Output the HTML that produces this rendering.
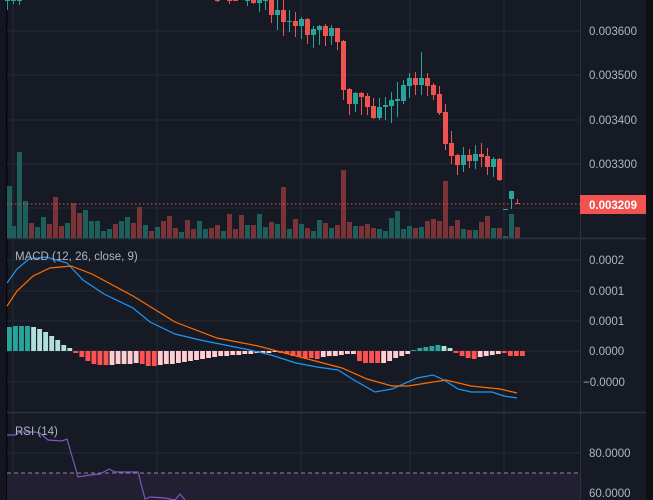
<!DOCTYPE html>
<html><head><meta charset="utf-8"><style>
html,body{margin:0;padding:0;background:#161a25;}
svg{display:block;}
text{font-family:"Liberation Sans",sans-serif;font-size:11.5px;fill:#b2b5be;}
</style></head><body>
<svg id="s" width="653" height="500" xmlns="http://www.w3.org/2000/svg">
<rect width="653" height="500" fill="#161a25"/>
<rect x="0" y="0" width="6" height="500" fill="#131620"/>
<rect x="6" y="0" width="1.5" height="500" fill="#05060a"/>
<rect x="646" y="0" width="7" height="500" fill="#0d0f14"/>
<g stroke="#262a35" stroke-width="1">
<line x1="13" y1="0" x2="13" y2="500"/><line x1="157" y1="0" x2="157" y2="500"/>
<line x1="301" y1="0" x2="301" y2="500"/><line x1="410" y1="0" x2="410" y2="500"/>
<line x1="504" y1="0" x2="504" y2="500"/>
<line x1="7" y1="31" x2="580" y2="31"/><line x1="7" y1="75" x2="580" y2="75"/>
<line x1="7" y1="120" x2="580" y2="120"/><line x1="7" y1="164" x2="580" y2="164"/>
<line x1="7" y1="208" x2="580" y2="208"/>
<line x1="7" y1="260" x2="580" y2="260"/><line x1="7" y1="291" x2="580" y2="291"/>
<line x1="7" y1="321" x2="580" y2="321"/><line x1="7" y1="351" x2="580" y2="351"/>
<line x1="7" y1="382" x2="580" y2="382"/>
<line x1="7" y1="453" x2="580" y2="453"/><line x1="7" y1="493" x2="580" y2="493"/>
</g>
<rect x="7" y="473" width="573" height="27" fill="#221f33"/>
<line x1="7" y1="473" x2="580" y2="473" stroke="#8a8d96" stroke-dasharray="4,3"/>
<line x1="7" y1="238.5" x2="646" y2="238.5" stroke="#2e323d" stroke-width="1.5"/>
<line x1="7" y1="412.5" x2="646" y2="412.5" stroke="#2e323d" stroke-width="1.5"/>
<line x1="580.5" y1="0" x2="580.5" y2="500" stroke="#2e323d"/>
<g id="vol"></g><g id="cdl"></g><g id="hist"></g>
<line x1="7" y1="204" x2="580" y2="204" stroke="#ef5350" stroke-dasharray="1.5,2.5"/>
<polyline fill="none" stroke="#2196f3" stroke-width="1.2" points="7,283 17,269 29,259 46,257 67,263 83,280 104,294 133,308 150,322 175,334 200,340 225,345 250,350 271,355 296,363 317,367 338,370 354,380 375,392 392,389 417,378 433,375 444,380 458,389 471,392 492,392 504,396 517,398"/>
<polyline fill="none" stroke="#ff6d00" stroke-width="1.2" points="7,306 17,291 33,276 50,268 71,266 92,274 133,296 175,322 217,338 258,346 300,357 342,368 367,379 392,386 408,386 446,380 471,386 500,389 517,393"/>
<polyline fill="none" stroke="#7e57c2" stroke-width="1.2" points="7,435 15,435 20,432 35,432 40,433 48,440 62,441 67,439 78,477 90,475 100,474 109,469 115,472 130,472 138,472 145,499 150,497 165,498 175,500 180,494 185,500"/>
<text x="15" y="260" font-size="12">MACD (12, 26, close, 9)</text>
<text x="15" y="435" font-size="12">RSI (14)</text>
<text x="589" y="35">0.003600</text><text x="589" y="79">0.003500</text>
<text x="589" y="124">0.003400</text><text x="589" y="168">0.003300</text>
<rect x="580" y="195" width="66" height="19" fill="#f05350"/>
<text x="589" y="209" style="fill:#fff;font-weight:bold">0.003209</text>
<text x="589" y="264">0.0002</text><text x="589" y="295">0.0001</text>
<text x="589" y="325">0.0001</text><text x="589" y="355">0.0000</text>
<text x="583" y="386">−0.0000</text>
<text x="589" y="457">80.0000</text><text x="589" y="497">60.0000</text>
</svg>
<script>
var NS="http://www.w3.org/2000/svg";
function el(p,t,a){var e=document.createElementNS(NS,t);for(var k in a)e.setAttribute(k,a[k]);document.getElementById(p).appendChild(e);}
// volume: [x, top, color(g/r)]
var vol=[[7,186,'g'],[11,226,'g'],[17,152,'g'],[23,201,'g'],[29,223,'r'],[35,227,'g'],[41,217,'g'],[47,224,'r'],[53,197,'r'],[59,226,'r'],[65,223,'g'],[71,203,'r'],[77,213,'r'],[83,210,'g'],[89,221,'g'],[95,221,'g'],[101,231,'g'],[107,229,'g'],[113,224,'r'],[119,221,'g'],[125,217,'g'],[131,223,'r'],[137,207,'r'],[143,225,'g'],[149,231,'r'],[155,227,'g'],[161,221,'r'],[167,216,'r'],[173,228,'r'],[179,232,'g'],[185,220,'r'],[191,229,'r'],[197,221,'g'],[203,229,'g'],[209,228,'r'],[215,225,'r'],[221,231,'g'],[227,214,'r'],[233,229,'r'],[239,215,'r'],[245,225,'g'],[251,225,'r'],[257,214,'g'],[263,227,'g'],[269,222,'r'],[275,224,'g'],[281,187,'r'],[287,229,'g'],[293,219,'r'],[299,224,'g'],[305,228,'r'],[311,231,'g'],[317,220,'g'],[323,223,'r'],[329,228,'g'],[335,225,'r'],[341,170,'r'],[347,222,'r'],[353,226,'g'],[359,226,'r'],[365,224,'r'],[371,228,'r'],[377,229,'g'],[383,231,'g'],[389,218,'g'],[395,211,'g'],[401,229,'g'],[407,226,'g'],[413,228,'r'],[419,227,'g'],[425,221,'r'],[431,219,'r'],[437,221,'r'],[443,181,'r'],[449,226,'r'],[455,220,'r'],[461,229,'g'],[467,230,'r'],[473,230,'g'],[479,222,'r'],[485,216,'r'],[491,228,'g'],[497,228,'r'],[503,236,'g'],[509,214,'g'],[515,227,'r']];
vol.forEach(function(v){el('vol','rect',{x:v[0],y:v[1],width:5,height:238-v[1],fill:v[2]=='g'?'#1f5f5b':'#7a3437'});});
// candles: [cx, bodyTop, bodyBot, wickTop, wickBot, color]
var c=[[7.5,0,0,0,10,'g'],[13.5,0,0,0,4,'g'],[19.5,0,0,0,5,'g'],[217.5,0,1,0,2,'r'],[229.5,0,1,0,4,'r'],[235.5,0,1,0,1,'r'],[247.5,0,1,0,6,'g'],[253.5,0,3,0,4,'r'],[259.5,0,3,0,12,'g'],[265.5,0,1,0,10,'g'],[271.5,0,15,0,23,'r'],[277.5,10,15,0,30,'g'],[283.5,10,22,0,36,'r'],[289.5,21,22,10,32,'g'],[295.5,21,26,12,37,'r'],[301.5,19,26,17,39,'g'],[307.5,19,35,18,44,'r'],[313.5,29,35,26,48,'g'],[319.5,26,30,25,45,'g'],[325.5,26,36,24,46,'r'],[331.5,28,36,25,45,'g'],[337.5,28,42,28,50,'r'],[343.5,41,90,40,100,'r'],[349.5,89,104,88,115,'r'],[355.5,93,104,92,112,'g'],[361.5,93,97,92,115,'r'],[367.5,96,107,93,115,'r'],[373.5,106,118,98,119,'r'],[379.5,107,118,98,120,'g'],[385.5,105,107,97,120,'g'],[391.5,100,106,92,123,'g'],[397.5,99,101,82,117,'g'],[403.5,85,101,80,104,'g'],[409.5,78,86,73,98,'g'],[415.5,78,85,72,95,'r'],[421.5,78,85,52,95,'g'],[427.5,78,86,73,96,'r'],[433.5,85,95,83,100,'r'],[439.5,94,113,86,115,'r'],[445.5,112,144,104,150,'r'],[451.5,143,156,131,164,'r'],[457.5,155,165,154,175,'r'],[463.5,155,165,147,172,'g'],[469.5,155,161,149,168,'r'],[475.5,154,161,145,169,'g'],[481.5,154,157,143,167,'r'],[487.5,156,167,148,175,'r'],[493.5,159,167,157,177,'g'],[499.5,159,180,158,181,'r'],[505.5,209,210,209,210,'g'],[511.5,191,199,191,209,'g'],[517.5,203,204,199,204,'r']];
c.forEach(function(v){var col=v[5]=='g'?'#26a69a':'#ef5350';
el('cdl','line',{x1:v[0],x2:v[0],y1:v[3],y2:v[4],stroke:col,'stroke-width':1});
el('cdl','rect',{x:v[0]-2.5,y:v[1],width:5,height:Math.max(1,v[2]-v[1]),fill:col});});
// histogram
var segs=[['#26a69a',[24,25,25,25]],['#b2dfdb',[24,22,19,15,11,6,3]],['#ff5252',[-2,-6,-10,-13,-14,-14]],['#ffcdd2',[-14,-13,-13,-13,-12]],['#ff5252',[-13,-15,-15]],['#ffcdd2',[-14,-13,-13,-12,-11,-10,-9,-8,-7,-6,-5,-5,-4,-4,-3,-3,-2,-2,-2,-1]],['#ff5252',[-2,-3,-5,-6,-7,-7,-8]],['#ffcdd2',[-6,-5,-5,-4,-3,-3]],['#ff5252',[-10,-12,-12,-12]],['#ffcdd2',[-12,-10,-7,-5,-3]],['#26a69a',[1,3,4,5,6]],['#b2dfdb',[5,3]],['#ff5252',[-2,-5,-7,-8]],['#ffcdd2',[-6,-5,-4,-3]],['#ff5252',[-2,-5,-5,-5]]];
var n=0;segs.forEach(function(s){n+=s[1].length;});
var step=(520-7)/(n-1),i=0;
segs.forEach(function(s){s[1].forEach(function(h){var x=7+i*step;i++;
el('hist','rect',{x:x,y:h>0?351-h:351,width:Math.max(2,step-1.2),height:Math.max(1,Math.abs(h)),fill:s[0]});});});
</script>
</body></html>
